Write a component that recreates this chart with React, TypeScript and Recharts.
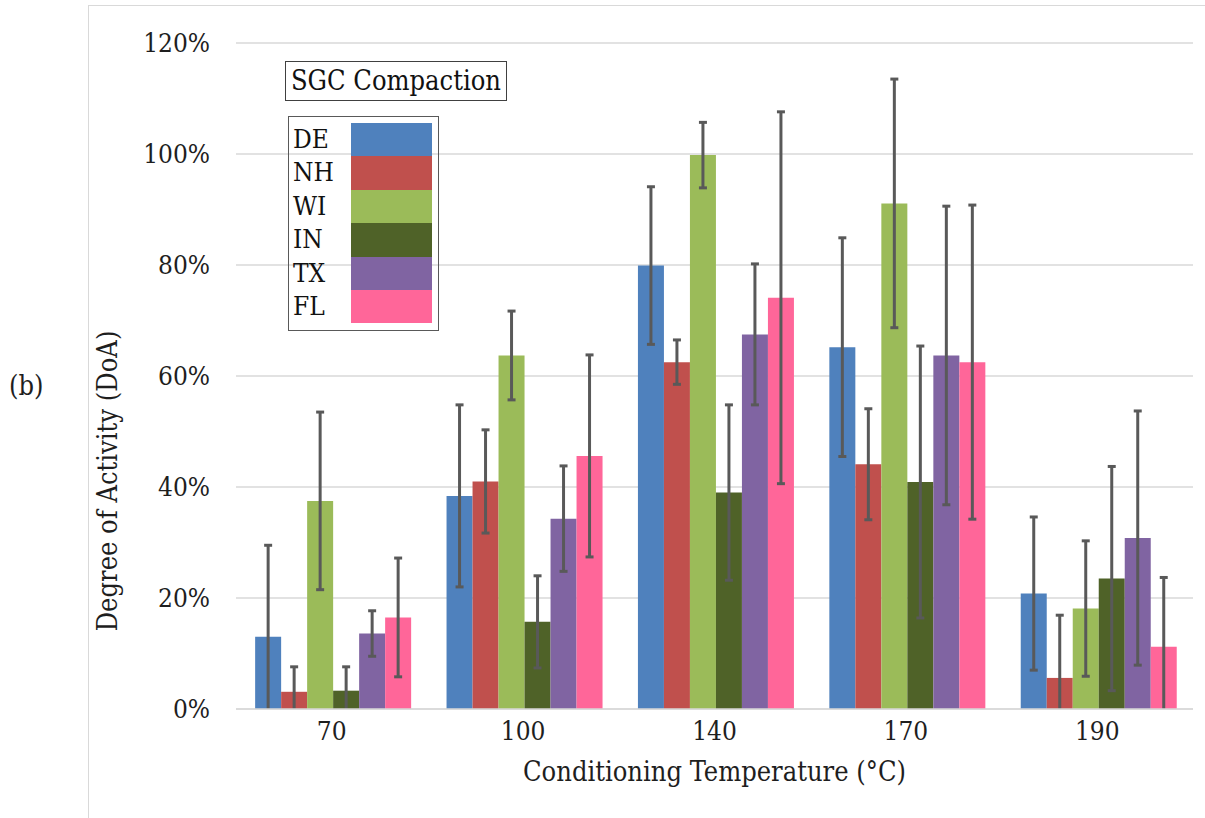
import React from 'react';
import { BarChart, Bar, XAxis, YAxis, CartesianGrid, ErrorBar } from 'recharts';

const temperatures = ['70', '100', '140', '170', '190'];
const series = ['DE', 'NH', 'WI', 'IN', 'TX', 'FL'];
const colors = ['#4F81BD', '#C0504D', '#9BBB59', '#4F6228', '#8064A2', '#FF6699'];

// degree of activity, %
const deValues = [13.0, 38.4, 79.9, 65.2, 20.8];
const nhValues = [3.1, 41.0, 62.5, 44.1, 5.6];
const wiValues = [37.5, 63.7, 99.8, 91.1, 18.1];
const inValues = [3.3, 15.7, 39.0, 40.9, 23.5];
const txValues = [13.6, 34.3, 67.5, 63.7, 30.8];
const flValues = [16.5, 45.6, 74.1, 62.5, 11.2];

// +/- error, %
const deErrors = [16.5, 16.4, 14.2, 19.7, 13.8];
const nhErrors = [4.5, 9.3, 4.0, 10.0, 11.3];
const wiErrors = [16.0, 8.0, 5.9, 22.4, 12.2];
const inErrors = [4.3, 8.3, 15.8, 24.5, 20.2];
const txErrors = [4.1, 9.5, 12.7, 26.9, 22.9];
const flErrors = [10.7, 18.2, 33.5, 28.3, 12.5];

const yTicks = [0, 20, 40, 60, 80, 100, 120];

const valueLists = [deValues, nhValues, wiValues, inValues, txValues, flValues];
const errorLists = [deErrors, nhErrors, wiErrors, inErrors, txErrors, flErrors];

const data = temperatures.map((t, i) => {
  const row: Record<string, string | number> = { temp: t };
  series.forEach((s, k) => {
    row[s] = valueLists[k][i];
    row[s + 'Err'] = errorLists[k][i];
  });
  return row;
});

const FONT = "'DejaVu Serif Condensed', 'DejaVu Serif', serif";
const TEXT = '#1e1e1e';

const App: React.FC = () => {
  return (
    <div style={{ position: 'absolute', left: 0, top: 0, width: 1205, height: 818, background: '#fff', fontFamily: FONT, overflow: 'hidden' }}>
      {/* error bars that run below 0% are cut at the axis, as in the original */}
      <style>{`.recharts-errorBars { clip-path: url(#errClip); }`}</style>
      <svg width={0} height={0} style={{ position: 'absolute' }}>
        <defs>
          <clipPath id="errClip" clipPathUnits="userSpaceOnUse">
            <rect x={0} y={0} width={1205} height={709} />
          </clipPath>
        </defs>
      </svg>

      {/* outer frame */}
      <div style={{ position: 'absolute', left: 88, top: 5, width: 1200, height: 900, border: '1px solid #d9d9d9' }} />

      <div style={{ position: 'absolute', left: 0, top: 0 }}>
        <BarChart
          width={1205}
          height={818}
          data={data}
          margin={{ top: 43, right: 12, bottom: 0, left: 136 }}
          barCategoryGap="10%"
          barGap={0}
        >
          <CartesianGrid vertical={false} stroke="#d9d9d9" strokeWidth={1.5} />
          <XAxis
            dataKey="temp"
            height={109}
            axisLine={{ stroke: '#d9d9d9', strokeWidth: 1.5 }}
            tickLine={false}
            tickMargin={7}
            tick={{ fill: TEXT, fontSize: 26, fontFamily: FONT }}
            label={{
              value: 'Conditioning Temperature (°C)',
              position: 'insideBottom',
              offset: 37,
              fill: TEXT,
              fontSize: 27,
              fontFamily: FONT,
            }}
          />
          <YAxis
            width={100}
            domain={[0, 120]}
            ticks={yTicks}
            allowDataOverflow
            axisLine={false}
            tickLine={false}
            tickMargin={20}
            tickFormatter={(v) => `${v}%`}
            tick={{ fill: TEXT, fontSize: 26, fontFamily: FONT }}
            label={{
              content: () => (
                <text
                  transform="translate(117 481) rotate(-90)"
                  textAnchor="middle"
                  fill={TEXT}
                  fontSize={27}
                  fontFamily={FONT}
                >
                  Degree of Activity (DoA)
                </text>
              ),
            }}
          />
          {series.map((s, k) => (
            <Bar key={s} dataKey={s} fill={colors[k]} isAnimationActive={false}>
              <ErrorBar dataKey={s + 'Err'} width={4} strokeWidth={3} stroke="#595959" isAnimationActive={false} />
            </Bar>
          ))}
        </BarChart>
      </div>

      {/* panel tag */}
      <div style={{ position: 'absolute', left: 9, top: 370, fontSize: 27, color: TEXT, lineHeight: '32px' }}>(b)</div>

      {/* legend title */}
      <div
        style={{
          position: 'absolute',
          left: 285,
          top: 61,
          width: 220,
          height: 38,
          border: '1.5px solid #404040',
          fontSize: 27,
          lineHeight: '38px',
          textAlign: 'center',
          color: '#111',
        }}
      >
        SGC Compaction
      </div>

      {/* legend */}
      <div
        style={{
          position: 'absolute',
          left: 288,
          top: 116,
          width: 149,
          height: 213,
          border: '1.5px solid #595959',
        }}
      >
        {series.map((s, k) => (
          <div key={s} style={{ position: 'absolute', left: 0, top: 6 + k * 33.4, width: 149, height: 33.4 }}>
            <span style={{ position: 'absolute', left: 4, top: 0, fontSize: 26, lineHeight: '33px', color: '#111' }}>{s}</span>
            <div style={{ position: 'absolute', left: 62, top: 0, width: 81, height: 33.4, background: colors[k] }} />
          </div>
        ))}
      </div>
    </div>
  );
};

export default App;
